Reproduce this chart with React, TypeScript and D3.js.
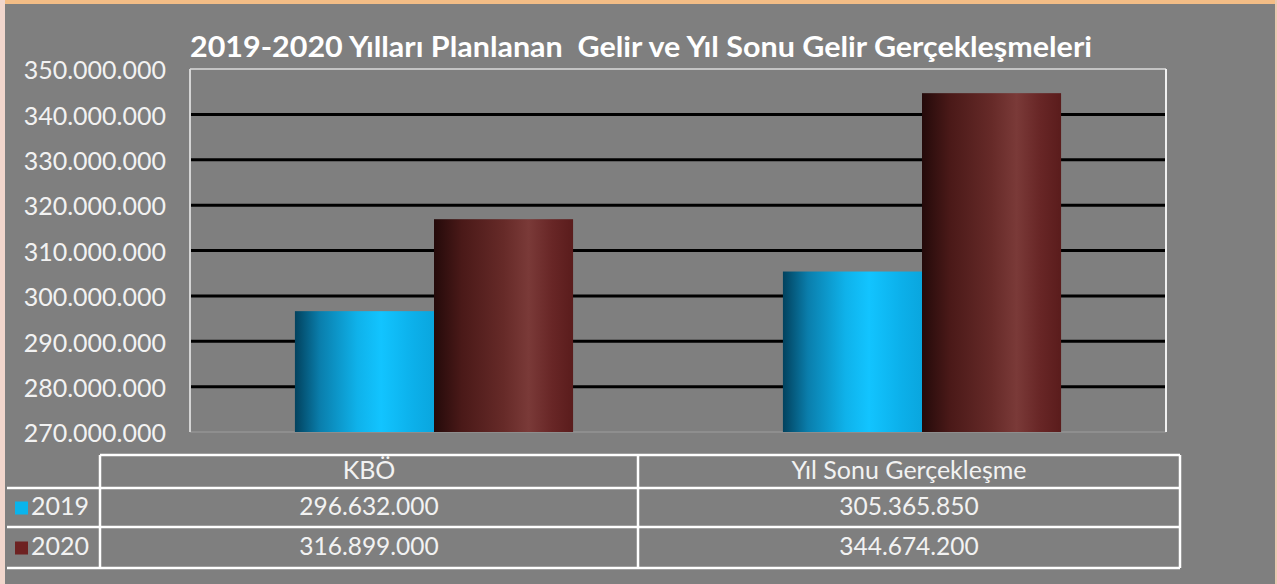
import React from "react";
import * as d3 from "d3";

const categories = ["KBÖ", "Yıl Sonu Gerçekleşme"];
const seriesNames = ["2019", "2020"];
const values2019 = [296632000, 305365850];
const values2020 = [316899000, 344674200];
const tableLabels2019 = ["296.632.000", "305.365.850"];
const tableLabels2020 = ["316.899.000", "344.674.200"];
const yTicks = [270000000, 280000000, 290000000, 300000000, 310000000, 320000000, 330000000, 340000000, 350000000];
const title = "2019-2020 Yılları Planlanan  Gelir ve Yıl Sonu Gelir Gerçekleşmeleri";

const W = 1277;
const H = 584;
const plot = { left: 190, right: 1166, top: 69, bottom: 432 };
const FONT = "Lato, 'Open Sans', sans-serif";

const fmt = (v: number) => d3.format(",")(v).replace(/,/g, ".");

export default function App() {
  const y = d3.scaleLinear().domain([270000000, 350000000]).range([plot.bottom, plot.top]);
  const x0 = d3.scaleBand<string>().domain(categories).range([plot.left, plot.right]).padding(0);
  const step = x0.step();
  const gap = step * 0.215;
  const x1 = d3.scaleBand<string>().domain(seriesNames).range([gap, step - gap]).padding(0);
  const data = [values2019, values2020];
  const gradIds = ["grad2019", "grad2020"];
  const legendColors = ["#0ab4ec", "#6e2222"];
  const tableRowsY = [455, 488, 527, 568];
  const tableX = [7, 100, 638, 1180];
  const rowLabels = [tableLabels2019, tableLabels2020];

  return (
    <div style={{ position: "absolute", left: 0, top: 0 }}>
      <svg width={W} height={H} style={{ display: "block" }}>
        <defs>
          <linearGradient id="grad2019" x1="0" x2="1" y1="0" y2="0">
            <stop offset="0" stopColor="#02425e" />
            <stop offset="0.18" stopColor="#0a7eac" />
            <stop offset="0.45" stopColor="#0fb2ea" />
            <stop offset="0.62" stopColor="#12c4ff" />
            <stop offset="0.85" stopColor="#0cb0ea" />
            <stop offset="1" stopColor="#0aa6de" />
          </linearGradient>
          <linearGradient id="grad2020" x1="0" x2="1" y1="0" y2="0">
            <stop offset="0" stopColor="#240a0a" />
            <stop offset="0.2" stopColor="#4a1918" />
            <stop offset="0.5" stopColor="#662a28" />
            <stop offset="0.68" stopColor="#7a3a38" />
            <stop offset="0.85" stopColor="#682626" />
            <stop offset="1" stopColor="#5a1c1c" />
          </linearGradient>
        </defs>
        <rect x={0} y={0} width={W} height={H} fill="#7f7f7f" />
        <rect x={0} y={0} width={W} height={4} fill="#f3bd86" />
        <rect x={0} y={0} width={5} height={H} fill="#f1d6cc" />
        <rect x={W - 2} y={0} width={2} height={H} fill="#e9c9b0" />

        <text
          x={641}
          y={57}
          textAnchor="middle"
          fill="#ffffff"
          fontFamily={FONT}
          fontWeight={700}
          fontSize={29}
          textLength={902}
          lengthAdjust="spacingAndGlyphs"
          style={{ whiteSpace: "pre" }}
        >
          {title}
        </text>

        {yTicks.slice(1, -1).map((t) => (
          <line key={t} x1={plot.left} x2={plot.right} y1={y(t)} y2={y(t)} stroke="#000" strokeWidth={3} />
        ))}
        <line x1={plot.left} x2={plot.right} y1={y(350000000)} y2={y(350000000)} stroke="#c4c4c4" strokeWidth={2} />
        <line x1={plot.left} x2={plot.right} y1={plot.bottom} y2={plot.bottom} stroke="#8e8e8e" strokeWidth={2} />
        <line x1={plot.left} x2={plot.left} y1={plot.top} y2={plot.bottom} stroke="#d4d4d4" strokeWidth={2} />
        <line x1={plot.right} x2={plot.right} y1={plot.top} y2={plot.bottom} stroke="#f0f0f0" strokeWidth={2} />

        {categories.map((c, ci) => (
          <g key={c} transform={`translate(${x0(c)},0)`}>
            {seriesNames.map((s, si) => (
              <rect
                key={s}
                x={x1(s)}
                y={y(data[si][ci])}
                width={x1.bandwidth()}
                height={plot.bottom - y(data[si][ci])}
                fill={`url(#${gradIds[si]})`}
              />
            ))}
          </g>
        ))}

        {yTicks.map((t) => (
          <text
            key={t}
            x={166}
            y={y(t) + 4}
            textAnchor="end"
            dominantBaseline="middle"
            fill="#f2f2f2"
            fontFamily={FONT}
            fontSize={25}
          >
            {fmt(t)}
          </text>
        ))}

        <line x1={tableX[1]} x2={tableX[3]} y1={tableRowsY[0]} y2={tableRowsY[0]} stroke="#fff" strokeWidth={2.5} />
        {tableRowsY.slice(1).map((ry) => (
          <line key={ry} x1={tableX[0]} x2={tableX[3]} y1={ry} y2={ry} stroke="#fff" strokeWidth={2.5} />
        ))}
        {tableX.slice(1).map((tx) => (
          <line key={tx} x1={tx} x2={tx} y1={tableRowsY[0]} y2={tableRowsY[3]} stroke="#fff" strokeWidth={2.5} />
        ))}

        {categories.map((c, ci) => (
          <text
            key={c}
            x={(tableX[ci + 1] + tableX[ci + 2]) / 2}
            y={(tableRowsY[0] + tableRowsY[1]) / 2 + 1}
            textAnchor="middle"
            dominantBaseline="middle"
            fill="#f2f2f2"
            fontFamily={FONT}
            fontSize={25}
          >
            {c}
          </text>
        ))}
        {seriesNames.map((s, si) => {
          const cy = (tableRowsY[si + 1] + tableRowsY[si + 2]) / 2 + 1;
          return (
            <g key={s}>
              <rect x={15} y={cy - 7} width={13} height={13} fill={legendColors[si]} />
              <text x={31} y={cy} dominantBaseline="middle" fill="#f2f2f2" fontFamily={FONT} fontSize={25}>
                {s}
              </text>
              {categories.map((c, ci) => (
                <text
                  key={c}
                  x={(tableX[ci + 1] + tableX[ci + 2]) / 2}
                  y={cy}
                  textAnchor="middle"
                  dominantBaseline="middle"
                  fill="#f2f2f2"
                  fontFamily={FONT}
                  fontSize={24.5}
                >
                  {rowLabels[si][ci]}
                </text>
              ))}
            </g>
          );
        })}
      </svg>
    </div>
  );
}
